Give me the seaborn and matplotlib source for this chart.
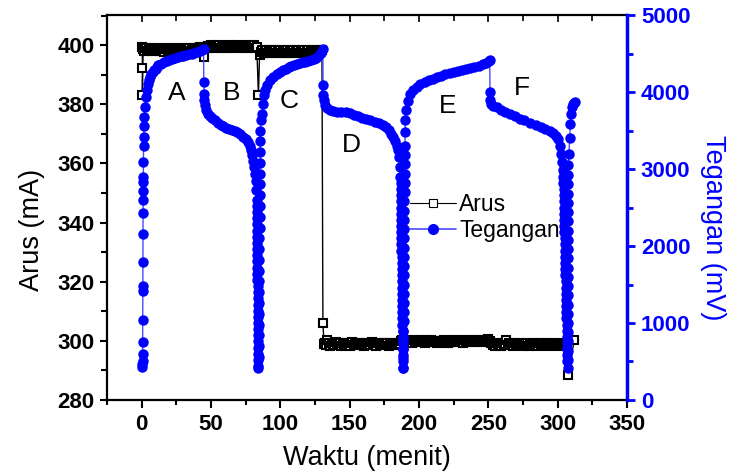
import matplotlib
matplotlib.use("Agg")
import matplotlib.pyplot as plt
from matplotlib.lines import Line2D
from matplotlib.ticker import MultipleLocator
import seaborn as sns

sns.set_style("ticks")
plt.rcParams['font.family'] = ['Liberation Sans', 'DejaVu Sans']
plt.rcParams['text.color'] = 'black'
plt.rcParams['axes.labelcolor'] = 'black'
plt.rcParams['xtick.color'] = 'black'
plt.rcParams['ytick.color'] = 'black'

# ---------------- data ----------------
x_ticks = [0, 50, 100, 150, 200, 250, 300, 350]
x_tick_labels = ["0", "50", "100", "150", "200", "250", "300", "350"]
y_ticks = [280, 300, 320, 340, 360, 380, 400]
y_tick_labels = ["280", "300", "320", "340", "360", "380", "400"]
y2_ticks = [0, 1000, 2000, 3000, 4000, 5000]
y2_tick_labels = ["0", "1000", "2000", "3000", "4000", "5000"]

# Arus (mA)
t_arus_a = [0.5, 0.5, 0.5, 1, 2, 3, 4, 5, 6, 7, 8, 9, 10, 11, 12, 13, 14, 15, 16, 17, 18, 19, 20,
            21, 22, 23, 24, 25, 26, 27, 28, 29, 30, 31, 32, 33, 34, 35, 36, 37, 38, 39, 40, 41, 42, 43, 44]
arus_a = [399.3, 392.2, 383.2,
          398.6, 398.0, 398.9, 398.1, 398.5, 399.0, 398.2, 397.9, 398.7, 398.1,
          398.9, 398.4, 397.9, 398.7, 398.3, 397.8, 398.6, 398.9, 398.1, 398.7,
          398.0, 398.5, 399.0, 398.2, 398.7, 397.9, 398.5, 398.1, 398.9, 398.3,
          398.7, 398.0, 398.5, 399.0, 398.1, 398.7, 398.3, 398.9, 398.5, 399.1,
          399.2, 399.4, 399.0, 398.6]
t_arus_b = [44.8, 46, 47, 48, 49, 50, 51, 52, 53, 54, 55, 56, 57, 58, 59, 60, 61, 62, 63, 64, 65,
            66, 67, 68, 69, 70, 71, 72, 73, 74, 75, 76, 77, 78, 79, 80, 81, 82, 83, 84.2]
arus_b = [396.0,
          399.5, 399.1, 399.8, 399.3, 399.9, 399.5, 399.0, 399.7, 399.3, 399.5,
          399.9, 399.1, 399.5, 399.7, 399.3, 399.0, 399.5, 399.9, 399.3, 399.7,
          399.1, 399.5, 400.0, 399.3, 399.7, 399.5, 399.1, 399.7, 399.3, 399.9,
          399.5, 399.0, 399.7, 399.3, 399.5, 399.9, 399.1, 399.5,
          383.0]
t_arus_c = [85, 86, 87, 88, 89, 90, 91, 92, 93, 94, 95, 96, 97, 98, 99, 100, 101, 102, 103, 104, 105,
            106, 107, 108, 109, 110, 111, 112, 113, 114, 115, 116, 117, 118, 119, 120, 121, 122, 123,
            124, 125, 126, 127, 128, 129, 130, 130.7]
arus_c = [396.6,
          397.8, 398.3, 397.4, 398.0, 398.5, 397.5, 398.1, 397.2, 398.3, 397.9,
          398.2, 397.4, 398.0, 397.7, 398.5, 397.5, 398.1, 397.2, 397.9, 398.4,
          397.5, 398.0, 397.7, 398.3, 397.3, 398.1, 397.9, 398.4, 397.4, 398.0,
          397.7, 398.3, 397.5, 397.9, 398.4, 397.4, 398.1, 397.7, 398.3, 397.5,
          398.0, 397.9, 398.4, 398.0, 398.2,
          306.0]
t_arus_d = [131.5, 132, 133, 134, 135, 136, 137, 138, 139, 140, 141, 142, 143, 144, 145, 146, 147,
            148, 149, 150, 151, 152, 153, 154, 155, 156, 157, 158, 159, 160, 161, 162, 163, 164, 165,
            166, 167, 168, 169, 170, 171, 172, 173, 174, 175, 176, 177, 178, 179, 180, 181, 182, 183,
            184, 185, 186]
arus_d = [299.0, 299.4, 298.6, 300.3, 299.2, 298.3, 299.4, 299.0, 298.5, 299.5,
          299.0, 298.6, 299.4, 298.2, 299.2, 299.0, 298.5, 299.4, 299.0, 298.3,
          299.2, 299.5, 298.6, 299.0, 299.4, 298.5, 299.2, 298.8, 299.0, 298.3,
          299.4, 299.0, 298.6, 299.2, 298.5, 299.5, 298.8, 299.0, 298.3, 299.2,
          299.4, 298.6, 299.0, 298.5, 299.2, 298.8, 299.4, 298.3, 299.0, 299.2,
          298.6, 299.0, 298.5, 299.4, 299.0, 298.8]
t_arus_e = [187, 188, 189, 190, 191, 192, 193, 194, 195, 196, 197, 198, 199, 200, 201, 202, 203,
            204, 205, 206, 207, 208, 209, 210, 211, 212, 213, 214, 215, 216, 217, 218, 219, 220, 221,
            222, 223, 224, 225, 226, 227, 228, 229, 230, 231, 232, 233, 234, 235, 236, 237, 238, 239,
            240, 241, 242, 243, 244, 245, 246, 247, 248, 249, 250, 251]
arus_e = [299.9, 300.2, 299.6, 300.0, 299.5, 300.2, 299.9, 300.0, 299.4, 300.2,
          299.7, 300.0, 299.9, 300.3, 299.5, 300.0, 299.9, 299.4, 300.2, 299.7,
          300.0, 299.9, 300.2, 299.5, 300.0, 299.7, 299.2, 299.4, 299.9, 300.0,
          299.7, 300.2, 299.9, 299.4, 299.2, 300.0, 299.7, 300.2, 299.9, 300.0,
          299.5, 300.2, 299.7, 300.0, 299.9, 299.4, 300.2, 299.7, 300.0, 299.9,
          300.2, 299.7, 300.0, 299.9, 300.3, 299.5, 300.0, 299.9, 300.2, 299.7,
          300.0, 299.9, 300.2, 300.5, 299.9]
t_arus_f = [252, 253, 254, 255, 256, 257, 258, 259, 260, 261, 262, 263, 264, 265, 266, 267, 268,
            269, 270, 271, 272, 273, 274, 275, 276, 277, 278, 279, 280, 281, 282, 283, 284, 285, 286,
            287, 288, 289, 290, 291, 292, 293, 294, 295, 296, 297, 298, 299, 300, 301, 302, 303, 304,
            305, 306, 307.3, 312]
arus_f = [299.2, 298.6, 299.0, 298.3, 299.4, 298.8, 299.0, 298.2, 299.2, 298.6,
          299.0, 300.3, 298.5, 299.2, 298.8, 299.0, 298.3, 299.4, 298.6, 299.0,
          298.5, 299.2, 298.8, 298.2, 299.0, 298.6, 299.4, 298.3, 299.0, 298.8,
          298.5, 299.2, 298.6, 299.0, 298.3, 299.2, 298.8, 298.5, 299.0, 298.6,
          299.2, 298.3, 299.0, 298.8, 298.5, 299.2, 298.6, 299.0, 298.3, 298.8,
          299.0, 298.5, 299.2, 298.6, 299.0,
          288.6, 300.2]

# Tegangan (mV)
t_teg_a = [0.5, 0.55, 0.6, 0.65, 0.7, 0.75, 0.8, 0.85, 0.9, 0.95,
           1.0, 1.05, 1.1, 1.15, 1.2, 1.25, 1.35, 1.5, 1.7, 2.0,
           2.4, 2.9, 3.5, 4.2, 5.0, 6.0, 7.0, 8, 9, 10,
           11, 12, 14, 16, 18, 20, 22, 24, 26, 28,
           30, 32, 34, 36, 38, 40, 42, 43.5, 44.6]
teg_a = [430, 470, 510, 600, 755, 1040, 1420, 1480, 1790, 2150,
         2430, 2600, 2720, 2830, 2900, 3090, 3300, 3420, 3560, 3680,
         3800, 3930, 4030, 4100, 4150, 4200, 4235, 4262, 4285, 4305,
         4322, 4345, 4368, 4388, 4403, 4420, 4435, 4446, 4456, 4465,
         4472, 4480, 4490, 4498, 4508, 4518, 4535, 4548, 4560]
t_teg_b = [44.8, 45.0, 45.2, 45.6, 46.3, 47.5, 49, 51, 53, 55,
           57, 59, 61, 63, 65, 67, 69, 71, 73, 75,
           76.5, 77.8, 78.8, 79.7, 80.5, 81.2, 81.8, 82.2, 82.6,
           83.0, 83.04, 83.08, 83.12, 83.16, 83.2, 83.24, 83.28, 83.32, 83.36,
           83.4, 83.44, 83.48, 83.52, 83.56, 83.6, 83.64, 83.68, 83.72, 83.76,
           83.8, 83.84, 83.88, 83.92, 83.96, 84.0, 84.05, 84.1]
teg_b = [4130, 3980, 3900, 3830, 3770, 3720, 3690, 3660, 3630, 3600,
         3575, 3555, 3538, 3524, 3510, 3495, 3475, 3450, 3420, 3385,
         3350, 3300, 3250, 3180, 3110, 3020, 2930, 2850, 2730,
         2600, 2520, 2440, 2360, 2280, 2200, 2120, 2040, 1960, 1880,
         1800, 1720, 1640, 1560, 1480, 1400, 1320, 1240, 1160, 1080,
         1000, 920, 840, 760, 680, 600, 520, 440]
t_teg_c = [84.2, 84.26, 84.32, 84.38, 84.44, 84.5, 84.56, 84.62, 84.68, 84.74,
           84.8, 84.86, 84.92, 84.98, 85.04, 85.1, 85.16, 85.22, 85.28, 85.34,
           85.4, 85.5, 85.6, 86.2, 86.8,
           87.6, 88.4, 89.2, 90.5, 92.8, 95, 97.5, 100, 102, 104,
           106, 108, 110, 112, 114, 116, 118, 120, 122, 124,
           126, 128, 129.5, 130.6]
teg_c = [420, 560, 700, 840, 980, 1120, 1260, 1400, 1540, 1680,
         1820, 1960, 2100, 2240, 2380, 2520, 2660, 2800, 2940, 3080,
         3220, 3360, 3500, 3630, 3720,
         3850, 3960, 4023, 4090, 4154, 4200, 4235, 4262, 4285, 4305,
         4322, 4338, 4352, 4365, 4375, 4385, 4392, 4400, 4410, 4425,
         4445, 4475, 4510, 4560]
t_teg_d = [130.8, 131.0, 131.5, 132.5, 134, 136, 138, 141, 144, 147,
           150, 153, 156, 159, 162, 165, 168, 171, 174, 176.5,
           178.5, 180, 181.5, 182.8, 184, 185, 185.7, 186.3, 186.6,
           186.7, 186.76, 186.82, 186.88, 186.94, 187.0, 187.06, 187.12, 187.18, 187.24,
           187.3, 187.36, 187.42, 187.48, 187.54, 187.6, 187.66, 187.72, 187.78, 187.84,
           187.9, 187.96, 188.02, 188.08, 188.14, 188.2, 188.26, 188.32, 188.38, 188.44, 188.5]
teg_d = [4090, 3958, 3890, 3828, 3790, 3765, 3752, 3745, 3740, 3735,
         3725, 3705, 3688, 3668, 3650, 3632, 3612, 3592, 3570, 3546,
         3505, 3460, 3415, 3360, 3300, 3242, 3150, 3025, 2900,
         2820, 2740, 2660, 2580, 2500, 2420, 2340, 2260, 2180, 2100,
         2020, 1940, 1860, 1780, 1700, 1620, 1540, 1460, 1380, 1300,
         1220, 1140, 1060, 980, 900, 820, 740, 660, 580, 500, 420]
t_teg_e = [188.6, 188.65, 188.7, 188.75, 188.8, 188.85, 188.9, 188.95, 189.0, 189.05,
           189.1, 189.15, 189.2, 189.25, 189.3, 189.35, 189.4, 189.45, 189.5, 189.55,
           189.6, 189.65, 189.7, 189.75, 189.8, 189.95, 190.2,
           190.8, 191.8, 193.5, 195.5, 198.3, 201, 204, 207, 210, 213,
           216, 219, 222, 225, 228, 231, 234, 237, 240, 243,
           246, 248.5, 250.2, 251.0]
teg_e = [420, 540, 660, 780, 900, 1020, 1140, 1260, 1380, 1500,
         1620, 1740, 1860, 1980, 2100, 2220, 2340, 2460, 2580, 2700,
         2820, 2940, 3060, 3180, 3300, 3480, 3640,
         3763, 3880, 3975, 4030, 4067, 4100, 4125, 4150, 4172, 4192,
         4210, 4230, 4250, 4265, 4277, 4287, 4297, 4310, 4325, 4343,
         4362, 4380, 4398, 4410]
t_teg_f = [251.2, 251.4, 251.8, 253, 256, 259, 262, 265.5, 269, 272.7,
           276, 280, 284.7, 288, 291, 294.2, 296.5, 298.5, 300.2, 301.5,
           302.6, 303.3, 303.8,
           304.0, 304.1, 304.2, 304.3, 304.4, 304.5, 304.6, 304.7, 304.8, 304.9,
           305.0, 305.1, 305.2, 305.3, 305.4, 305.5, 305.6, 305.7, 305.8, 305.9,
           306.0, 306.1, 306.2, 306.3, 306.4, 306.5, 306.6, 306.7, 306.8, 306.9,
           307.0, 307.1]
teg_f = [4001, 3900, 3850, 3820, 3800, 3770, 3745, 3720, 3690, 3655,
         3630, 3600, 3568, 3545, 3525, 3500, 3470, 3430, 3394, 3300,
         3199, 3090, 2982,
         2900, 2820, 2740, 2660, 2580, 2500, 2420, 2340, 2260, 2180,
         2100, 2020, 1940, 1860, 1780, 1700, 1620, 1540, 1460, 1380,
         1300, 1220, 1140, 1060, 980, 900, 820, 740, 660, 580,
         500, 420]
t_teg_g = [307.15, 307.17, 307.19, 307.21, 307.23, 307.25, 307.27, 307.29, 307.31, 307.33,
           307.35, 307.37, 307.39, 307.41, 307.43, 307.45, 307.47, 307.5, 307.53, 307.56,
           307.6, 307.8, 308.2, 308.6, 309.2, 309.8, 310.4, 311.0, 311.6, 312.2]
teg_g = [520, 640, 760, 880, 1000, 1120, 1240, 1360, 1480, 1600,
         1720, 1840, 1960, 2080, 2200, 2320, 2440, 2560, 2680, 2800,
         2920, 3050, 3200, 3400, 3580, 3720, 3800, 3850, 3862, 3871]

# segment labels
seg_labels = ["A", "B", "C", "D", "E", "F"]
seg_t = [25.2, 65.0, 106.0, 151.0, 221.0, 274.0]
seg_v = [3990, 3990, 3880, 3307, 3815, 4050]

t_arus = t_arus_a + t_arus_b + t_arus_c + t_arus_d + t_arus_e + t_arus_f
arus = arus_a + arus_b + arus_c + arus_d + arus_e + arus_f
t_teg = t_teg_a + t_teg_b + t_teg_c + t_teg_d + t_teg_e + t_teg_f + t_teg_g
teg = teg_a + teg_b + teg_c + teg_d + teg_e + teg_f + teg_g

BLUE = '#0000FF'
LBLUE = '#4a4aff'

fig = plt.figure(figsize=(7.29, 4.75), dpi=100)
ax = fig.add_axes([0.1468, 0.1579, 0.7133, 0.8105])
ax2 = ax.twinx()

sns.lineplot(x=t_arus, y=arus, ax=ax, sort=False, estimator=None, color='black',
             linewidth=1.0, marker='s', markersize=5.5, markerfacecolor='white',
             markeredgecolor='black', markeredgewidth=1.5, legend=False)
sns.lineplot(x=t_teg, y=teg, ax=ax2, sort=False, estimator=None, color=BLUE,
             linewidth=1.0, marker='o', markersize=7.5, markerfacecolor=BLUE,
             markeredgecolor=BLUE, markeredgewidth=0, legend=False)
ax2.lines[0].set_color(LBLUE)

ax.set_xlim(-25, 350)
ax.set_ylim(280, 410.2)
ax2.set_ylim(0, 5000)

ax.set_xticks(x_ticks)
ax.set_xticklabels(x_tick_labels, fontweight='bold', fontsize=16, color='black')
ax.xaxis.set_minor_locator(MultipleLocator(25))
ax.set_yticks(y_ticks)
ax.set_yticklabels(y_tick_labels, fontweight='bold', fontsize=16, color='black')
ax.yaxis.set_minor_locator(MultipleLocator(10))
ax2.set_yticks(y2_ticks)
ax2.set_yticklabels(y2_tick_labels, fontweight='bold', fontsize=16, color=BLUE)
ax2.yaxis.set_minor_locator(MultipleLocator(500))

ax.tick_params(axis='x', which='both', direction='out', bottom=True, top=False, width=1.5, colors='black', pad=4)
ax.tick_params(axis='x', which='major', length=6)
ax.tick_params(axis='x', which='minor', length=3.5)
ax.tick_params(axis='y', which='both', direction='out', left=True, right=False, width=1.5, colors='black', pad=4)
ax.tick_params(axis='y', which='major', length=5)
ax.tick_params(axis='y', which='minor', length=4)

ax2.xaxis.set_visible(True)
ax2.tick_params(axis='x', which='both', direction='in', bottom=False, top=True,
                labelbottom=False, labeltop=False, width=1.2, colors='black')
ax2.tick_params(axis='x', which='major', length=5)
ax2.tick_params(axis='x', which='minor', length=4)
ax2.tick_params(axis='y', which='both', direction='out', right=True, left=False,
                width=2, colors=BLUE, pad=4)
ax2.tick_params(axis='y', which='major', length=6)
ax2.tick_params(axis='y', which='minor', length=4)

for s in ['top', 'bottom', 'left']:
    ax.spines[s].set_linewidth(1.6)
    ax.spines[s].set_color('black')
ax.spines['right'].set_visible(False)
for s in ['top', 'bottom', 'left']:
    ax2.spines[s].set_visible(False)
ax2.spines['right'].set_color(BLUE)
ax2.spines['right'].set_linewidth(2.5)

ax.set_xlabel('')
ax.set_ylabel('')
ax2.set_ylabel('')

fig.text(367 / 729, 1 - 458 / 475, 'Waktu (menit)', ha='center', va='center', fontsize=19.5, color='black')
fig.text(32 / 729, 1 - 230 / 475, 'Arus (mA)', ha='center', va='center', rotation=90, fontsize=19.5,
         color='black')
fig.text(713 / 729, 1 - 228 / 475, 'Tegangan (mV)', ha='center', va='center', rotation=270,
         fontsize=19.5, color=BLUE)

for lab, tx, vy in zip(seg_labels, seg_t, seg_v):
    ax2.text(tx, vy, lab, ha='center', va='center', fontsize=19, color='black')

h1 = Line2D([], [], color='black', lw=0.8, marker='s', markersize=6, markerfacecolor='white',
            markeredgecolor='black', markeredgewidth=0.8)
h2 = Line2D([], [], color=LBLUE, lw=1.2, marker='o', markersize=8, markerfacecolor=BLUE,
            markeredgecolor=BLUE, markeredgewidth=0)
leg = ax2.legend([h1, h2], ['Arus', 'Tegangan'], loc='center left', bbox_to_anchor=(0.583, 0.474),
                 frameon=False, fontsize=16.5, handlelength=2.0, handletextpad=0.15,
                 labelspacing=0.1, borderpad=0, borderaxespad=0)
for txt in leg.get_texts():
    txt.set_color('black')
leg.set_zorder(1)

fig.savefig('out.png', dpi=100)
